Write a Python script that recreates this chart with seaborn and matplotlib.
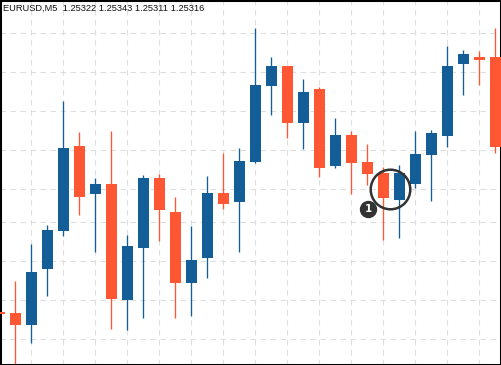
import numpy as np
import pandas as pd
import matplotlib
matplotlib.use("Agg")
import matplotlib.pyplot as plt
import seaborn as sns

# ---- data ----
symbol = "EURUSD,M5"
quote = ["1.25322", "1.25343", "1.25311", "1.25316"]

opens = [1.25288, 1.25287, 1.25275, 1.25331, 1.25369, 1.25454, 1.25406, 1.25416,
         1.25300, 1.25352, 1.25422, 1.25388, 1.25317, 1.25342, 1.25407, 1.25398,
         1.25438, 1.25514, 1.25534, 1.25477, 1.25511, 1.25434, 1.25465, 1.25438,
         1.25427, 1.25400, 1.25416, 1.25445, 1.25464, 1.25536, 1.25543, 1.25543]
highs = [1.25295, 1.25319, 1.25356, 1.25375, 1.25499, 1.25468, 1.25422, 1.25469,
         1.25365, 1.25425, 1.25426, 1.25403, 1.25374, 1.25424, 1.25447, 1.25452,
         1.25572, 1.25543, 1.25534, 1.25521, 1.25513, 1.25482, 1.25469, 1.25456,
         1.25433, 1.25435, 1.25469, 1.25470, 1.25554, 1.25550, 1.25549, 1.25572]
lows = [1.25282, 1.25234, 1.25257, 1.25304, 1.25364, 1.25385, 1.25348, 1.25271,
        1.25270, 1.25282, 1.25359, 1.25282, 1.25284, 1.25322, 1.25391, 1.25348,
        1.25437, 1.25485, 1.25462, 1.25451, 1.25423, 1.25432, 1.25406, 1.25415,
        1.25360, 1.25362, 1.25412, 1.25399, 1.25453, 1.25505, 1.25515, 1.25447]
closes = [1.25286, 1.25275, 1.25328, 1.25370, 1.25452, 1.25403, 1.25416, 1.25301,
          1.25354, 1.25422, 1.25390, 1.25317, 1.25340, 1.25407, 1.25396, 1.25439,
          1.25515, 1.25534, 1.25477, 1.25508, 1.25432, 1.25465, 1.25437, 1.25426,
          1.25402, 1.25427, 1.25446, 1.25467, 1.25534, 1.25546, 1.25540, 1.25453]

grid_prices = [1.25567, 1.25528, 1.25489, 1.25450, 1.25411, 1.25378,
               1.25339, 1.25300, 1.25261]
grid_bars = list(range(2, 31, 2))

highlight_bars = [24, 25]       # circled pair of candles
highlight_price = 1.25411
badge_label = "1"
badge_bar = 23.03
badge_price = 1.25391

UP = "#135e96"
DOWN = "#ff5733"

sns.set_theme(style="white")
plt.rcParams["font.family"] = ["Liberation Sans", "DejaVu Sans"]

df = pd.DataFrame({"bar": np.arange(len(opens)), "open": opens, "high": highs,
                   "low": lows, "close": closes})
df["bottom"] = df[["open", "close"]].min(axis=1)
df["body"] = (df["close"] - df["open"]).abs()
df["color"] = np.where(df["close"] > df["open"], UP, DOWN)

fig = plt.figure(figsize=(5.01, 3.65), dpi=100)
ax = fig.add_axes([0, 0, 1, 1])

# wicks
ax.vlines(df["bar"], df["low"], df["high"], colors=df["color"], linewidth=0.95, zorder=2)
# bodies
ax.bar(df["bar"], df["body"], bottom=df["bottom"], width=0.69, color=df["color"],
       linewidth=0, zorder=3)

ax.set_xlim(0.03125, 31.34375)
ax.set_ylim(1.25235, 1.25600)

ax.set_xticks(grid_bars)
ax.set_yticks(grid_prices)
ax.tick_params(length=0, labelbottom=False, labelleft=False)
ax.grid(True, color="#dedede", linewidth=0.8, linestyle=(0, (5, 4)), zorder=0)
ax.set_axisbelow(True)

for s in ax.spines.values():
    s.set_visible(True)
    s.set_color("black")
    s.set_linewidth(2.2)

# title text
ax.text(2.7 / 501, 1 - 10.7 / 365, symbol + "  " + " ".join(quote),
        transform=ax.transAxes, fontsize=6.7, color="#111111", va="baseline", ha="left",
        zorder=5)

# highlight circle and badge
hx = np.mean(highlight_bars) - 0.07
ax.plot([hx], [highlight_price], marker="o", markersize=28.5, markerfacecolor="none",
        markeredgecolor="#333333", markeredgewidth=1.8, zorder=6)
ax.plot([badge_bar], [badge_price], marker="o", markersize=11.5, markerfacecolor="#333333",
        markeredgecolor="#333333", zorder=6)
ax.text(badge_bar, badge_price, badge_label, color="white", fontsize=7.5, fontweight="bold",
        ha="center", va="center", zorder=7, family=["DejaVu Sans"])

fig.savefig("out.png", dpi=100)
